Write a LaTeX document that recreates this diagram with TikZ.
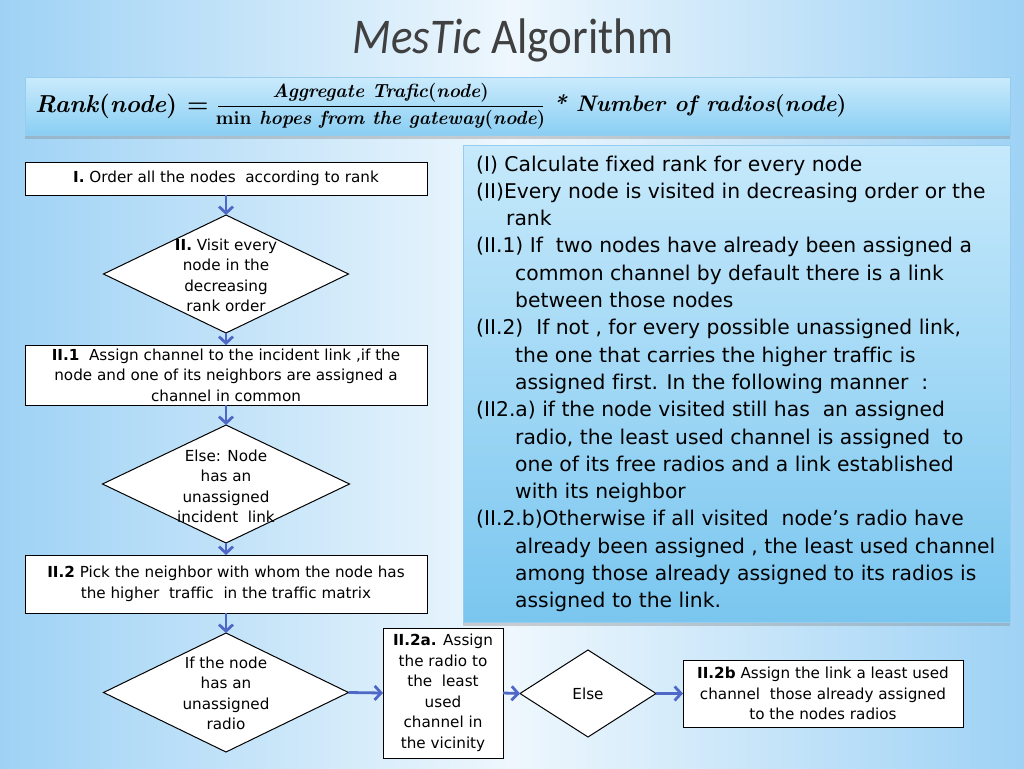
\documentclass[tikz,border=0pt]{standalone}
\usepackage{fontspec}
\usetikzlibrary{arrows.meta,shadows,shapes.geometric}
\newfontfamily\dvs[Ligatures=NoCommon]{DejaVu Sans}
\newfontfamily\carl{Carlito}
\definecolor{bgblue}{RGB}{158,210,245}
\definecolor{bgmid}{RGB}{238,247,253}
\definecolor{arrblue}{RGB}{78,104,200}
\definecolor{bartop}{RGB}{202,235,252}
\definecolor{barbot}{RGB}{138,206,243}
\definecolor{boxtop}{RGB}{198,233,251}
\definecolor{boxbot}{RGB}{122,198,239}
\definecolor{barline}{RGB}{150,205,238}
\definecolor{titlegray}{RGB}{64,64,64}
\newcommand\flowfont{\dvs\fontsize{15.2}{20.5}\selectfont}
\newcommand\bigfml{\fontsize{24.5}{28}\selectfont\bfseries\itshape}
\newcommand\rightfml{\fontsize{22.5}{28}\selectfont\bfseries\itshape}
\newcommand\smallfml{\fontsize{19}{22}\selectfont\bfseries\itshape}
\newcommand\rightlist{\begin{minipage}[t]{540pt}\dvs\fontsize{20.3}{27.3}\selectfont\raggedright\setlength{\parindent}{0pt}\setlength{\parskip}{0pt}%
\hangindent=30pt\hangafter=1 (I) Calculate fixed rank for every node\par
\hangindent=30pt\hangafter=1 (II)Every node is visited in decreasing order or the\newline rank\par
\hangindent=39pt\hangafter=1 (II.1) If~ two nodes have already been assigned a\newline common channel by default there is a link\newline between those nodes\par
\hangindent=39pt\hangafter=1 (II.2)~ If not , for every possible unassigned link,\newline the one that carries the higher traffic is\newline assigned first. In the following manner~ :\par
\hangindent=39pt\hangafter=1 (II2.a) if the node visited still has~ an assigned\newline radio, the least used channel is assigned~ to\newline one of its free radios and a link established\newline with its neighbor\par
\hangindent=39pt\hangafter=1 (II.2.b)Otherwise if all visited~ node’s radio have\newline already been assigned , the least used channel\newline among those already assigned to its radios is\newline assigned to the link.\par
\end{minipage}}
\begin{document}
\begin{tikzpicture}[x=1pt,y=-1pt,
  flowbox/.style={draw=black,line width=1pt,fill=white,inner sep=2pt,outer sep=0pt,align=center,font=\flowfont},
  dia/.style={diamond,draw=black,line width=1pt,fill=white,inner sep=0pt,outer sep=0pt},
  dtext/.style={align=center,font=\flowfont,inner sep=0pt},
  arr/.style={draw=arrblue,line width=2.8pt,-{Straight Barb[length=6.5pt,width=14pt]}},
  panel/.style={draw=barline,line width=0.6pt,outer sep=0pt,drop shadow={opacity=0.35,shadow xshift=0pt,shadow yshift=-4pt}}
]
\useasboundingbox (0,0) rectangle (1024,768);
\fill[left color=bgblue,right color=bgblue,middle color=bgmid] (0,0) rectangle (1024,768);
\node[font=\carl\fontsize{50}{60}\selectfont,text=titlegray,inner sep=0pt] (title) at (513,40) {\scalebox{0.9}[1]{\textit{MesTic} Algorithm}};
\node[panel,top color=bartop,bottom color=barbot,minimum width=985,minimum height=58,anchor=north west] (bar) at (25,77) {};
\node[anchor=west,inner sep=0pt,font=\bigfml] (fl) at (35,106) {Rank\textup{(}node\textup{)} \textup{=}};
\node[inner sep=0pt,font=\smallfml] (fnum) at (380.5,93) {Aggregate Trafic\textup{(}node\textup{)}};
\node[inner sep=0pt,font=\smallfml] (fden) at (380.5,120) {\textup{min} hopes from the gateway\textup{(}node\textup{)}};
\coordinate (fa) at (218,106);
\coordinate (fb) at (543,106);
\draw[line width=1pt] (fa) -- (fb);
\node[anchor=west,inner sep=0pt,font=\rightfml] (fr) at (553,106) {* Number of radios\textup{(}node\textup{)}};
\node[panel,top color=boxtop,bottom color=boxbot,minimum width=547,minimum height=477,anchor=north west] (rb) at (463,145) {};
\node[anchor=base west,inner sep=0pt] (rtext) at (476,171) {\rightlist};
\node[flowbox,minimum width=402,minimum height=33] (b1) at (226,178.5) {\textbf{I.} Order all the nodes~ according to rank};
\node[dia,minimum width=245,minimum height=118] (d1) at (226,274) {};
\node[dtext] (t1) at (226,275.5) {\textbf{II.} Visit every\\node in the\\decreasing\\rank order};
\node[flowbox,minimum width=402,minimum height=60] (b2) at (226,375) {\textbf{II.1}~ Assign channel to the incident link ,if the\\node and one of its neighbors are assigned a\\channel in common};
\node[dia,minimum width=247,minimum height=118] (d2) at (226,484) {};
\node[dtext] (t2) at (226,486.5) {Else: Node\\has an\\unassigned\\incident~ link};
\node[flowbox,minimum width=402,minimum height=58] (b3) at (226,584) {\textbf{II.2} Pick the neighbor with whom the node has\\the higher~ traffic~ in the traffic matrix};
\node[dia,minimum width=245,minimum height=119] (d3) at (226,692.5) {};
\node[dtext] (t3) at (226,693.5) {If the node\\has an\\unassigned\\radio};
\node[flowbox,minimum width=120,minimum height=130] (b4) at (443,693) {\textbf{II.2a.} Assign\\the radio to\\the~ least\\used\\channel in\\the vicinity};
\node[dia,minimum width=136,minimum height=87] (d4) at (588,693.5) {};
\node[dtext] (t4) at (588,694) {Else};
\node[flowbox,minimum width=280,minimum height=67] (b5) at (823,693.5) {\textbf{II.2b} Assign the link a least used\\channel~ those already assigned\\to the nodes radios};
\draw[arr] (b1.south) -- (d1.north);
\draw[arr] (d1.south) -- (b2.north);
\draw[arr] (b2.south) -- (d2.north);
\draw[arr] (d2.south) -- (b3.north);
\draw[arr] (b3.south) -- (d3.north);
\draw[arr] (d3.east) -- (b4.west);
\draw[arr] (b4.east) -- (d4.west);
\draw[arr] (d4.east) -- (b5.west);
\end{tikzpicture}
\end{document}
